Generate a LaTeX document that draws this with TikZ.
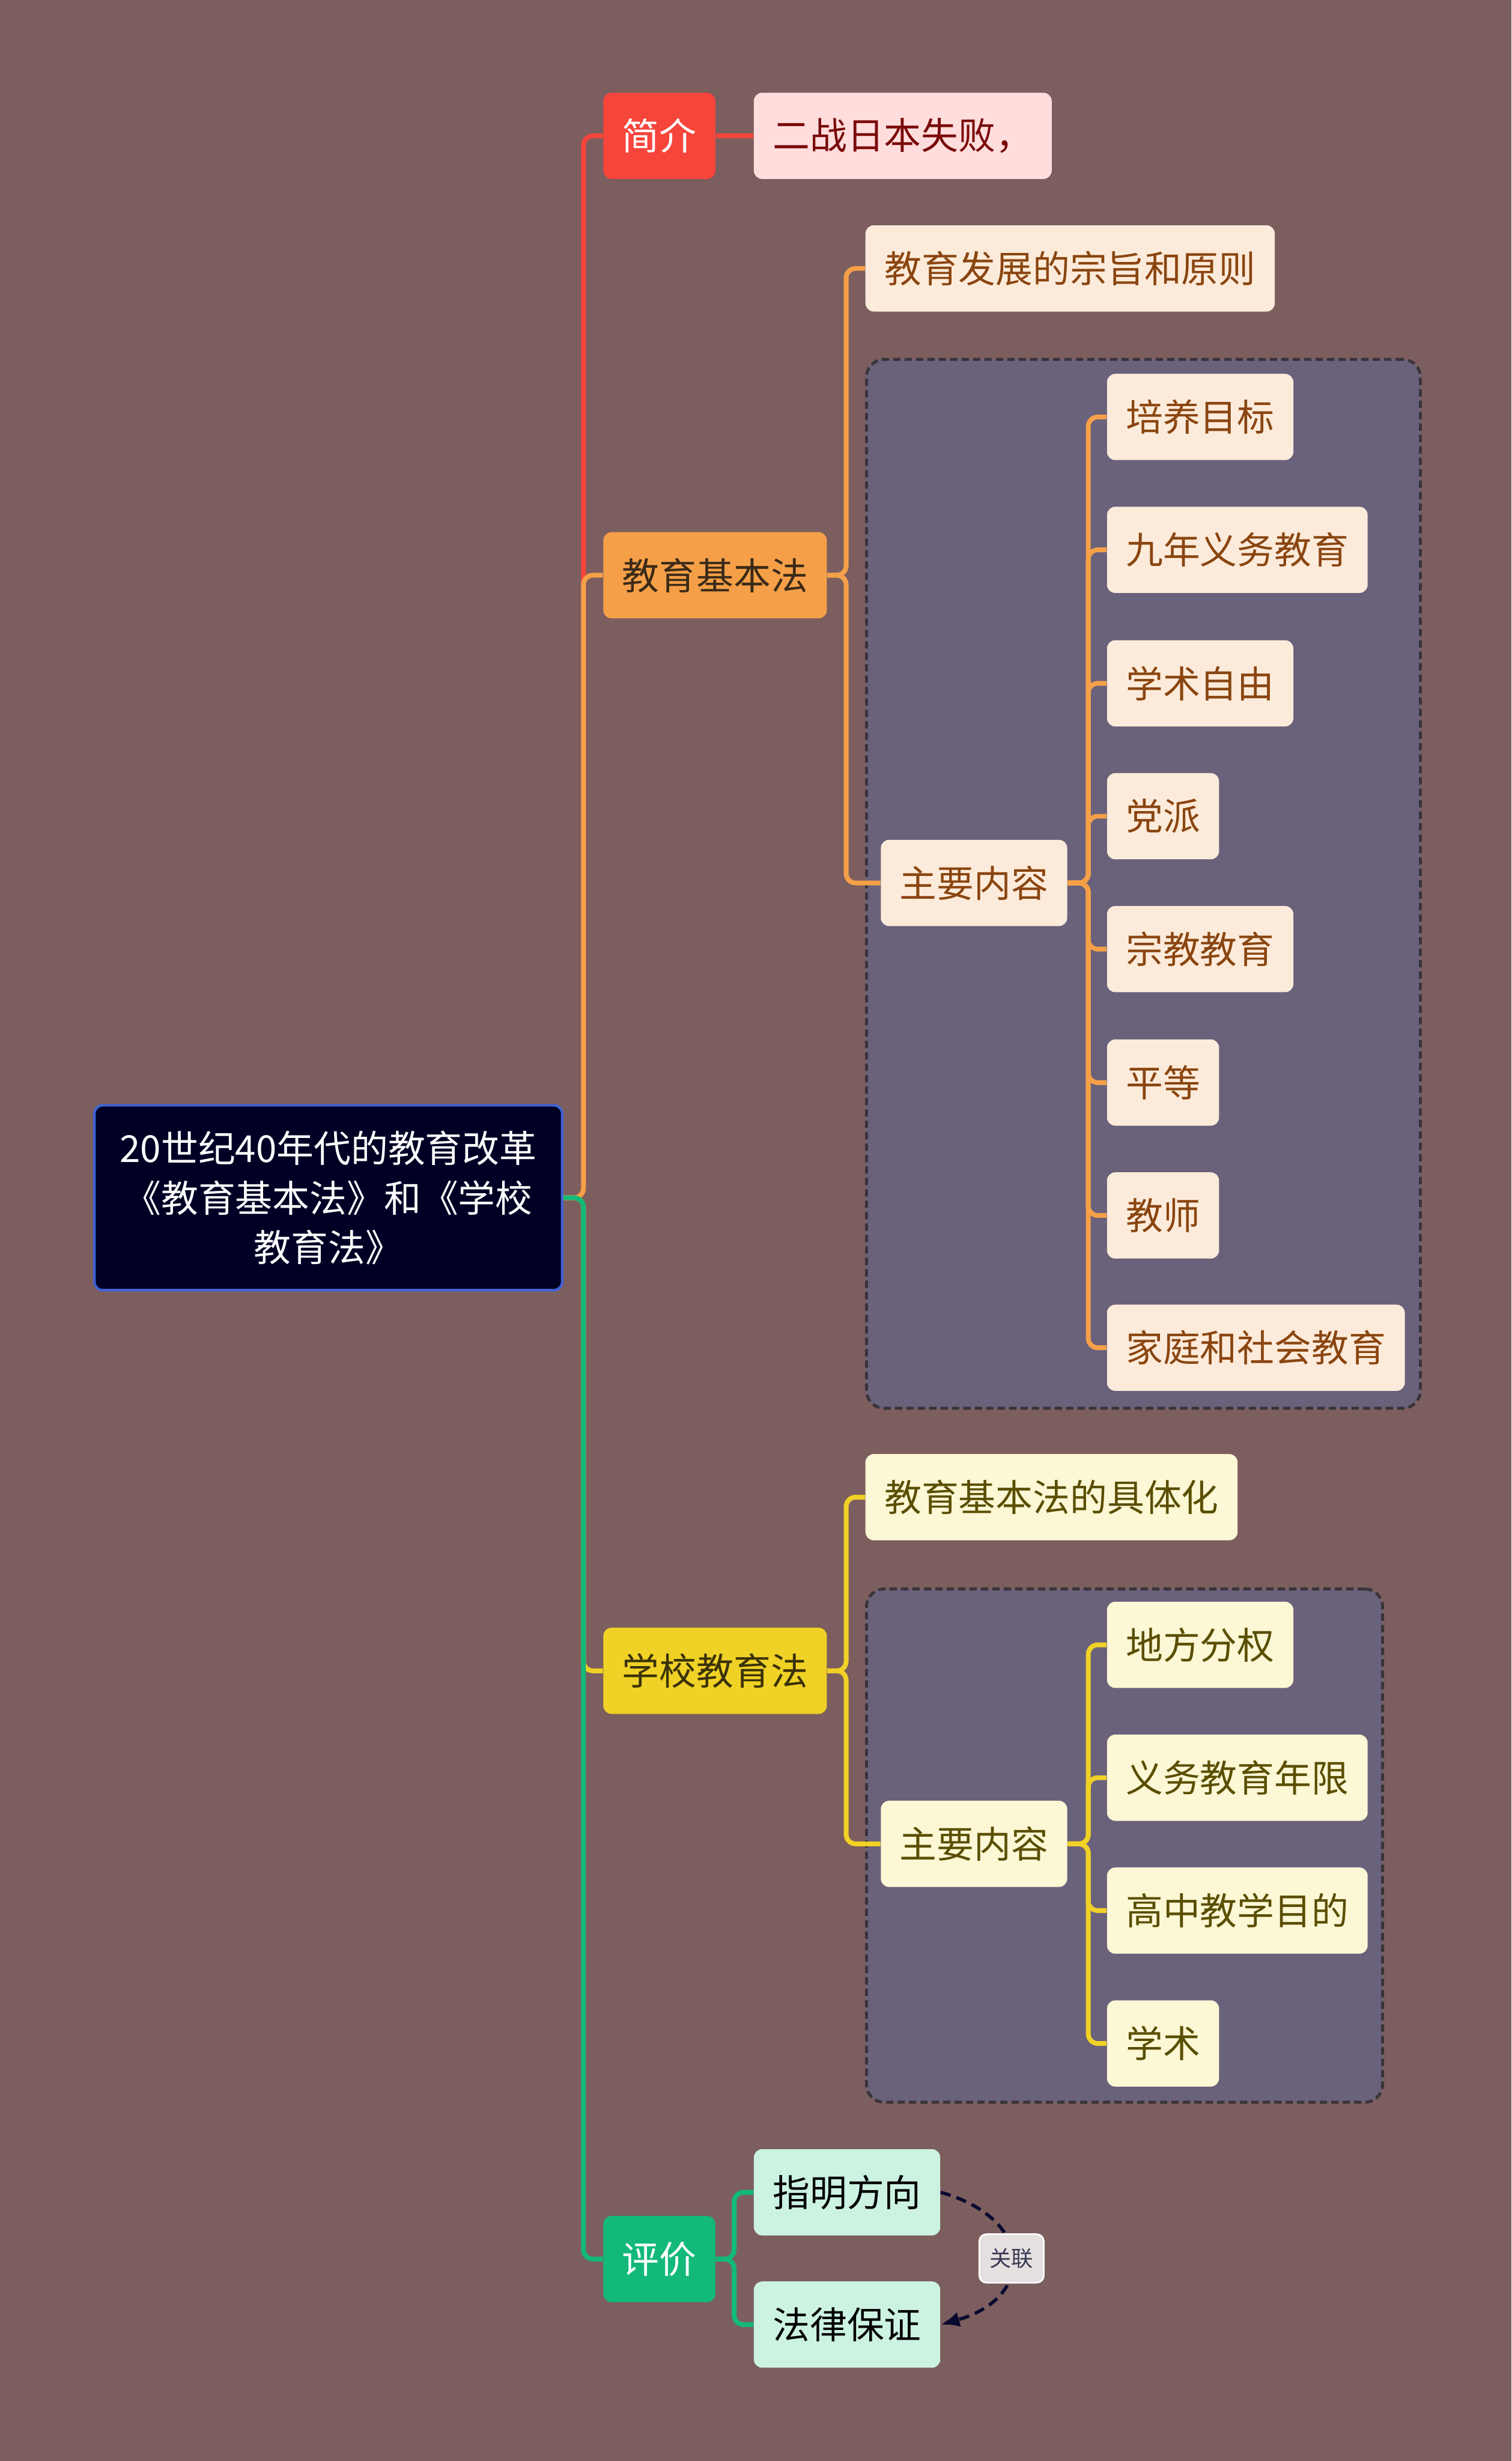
\documentclass[tikz,border=0pt]{standalone}
\usepackage{fontspec}
\setmainfont{Noto Sans CJK SC}
\usetikzlibrary{positioning,arrows.meta}

\definecolor{bgcol}{HTML}{7C5E5E}
\definecolor{rootfill}{HTML}{000025}
\definecolor{rootline}{HTML}{3F63D6}
\definecolor{redmain}{HTML}{F6453B}
\definecolor{redsoft}{HTML}{FFDDDC}
\definecolor{redtext}{HTML}{7A0A0A}
\definecolor{orgmain}{HTML}{F5A048}
\definecolor{orgsoft}{HTML}{FCEBDA}
\definecolor{orgtext}{HTML}{8A4510}
\definecolor{orgdark}{HTML}{3A2A18}
\definecolor{yelmain}{HTML}{F0D126}
\definecolor{yelsoft}{HTML}{FCF7D5}
\definecolor{yeltext}{HTML}{5A4E00}
\definecolor{yeldark}{HTML}{3A3208}
\definecolor{grnmain}{HTML}{13B979}
\definecolor{grnsoft}{HTML}{CCF2E2}
\definecolor{grpfill}{HTML}{6A617B}
\definecolor{grpline}{HTML}{38343A}
\definecolor{relline}{HTML}{0A0A30}
\definecolor{tagfill}{HTML}{E5DFDF}
\definecolor{tagtext}{HTML}{3A3A55}

\begin{document}
\begin{tikzpicture}[y=-1cm,
    box/.style={rounded corners=0.14cm, inner xsep=0.32cm, inner ysep=0pt, minimum height=1.46cm,
        font=\fontsize{17.9pt}{23.8pt}\selectfont, anchor=west},
    rootbox/.style={box, fill=rootfill, draw=rootline, line width=1.2pt, text=white, align=center,
        minimum width=7.92cm, minimum height=3.13cm, anchor=center},
    redtop/.style={box, fill=redmain, text=white},
    redsub/.style={box, fill=redsoft, text=redtext},
    orgtop/.style={box, fill=orgmain, text=orgdark},
    orgsub/.style={box, fill=orgsoft, text=orgtext},
    yeltop/.style={box, fill=yelmain, text=yeldark},
    yelsub/.style={box, fill=yelsoft, text=yeltext},
    grntop/.style={box, fill=grnmain, text=white},
    grnsub/.style={box, fill=grnsoft, text=black},
    grpbox/.style={draw=grpline, fill=grpfill, line width=1.4pt, dash pattern=on 3.5pt off 2pt,
        rounded corners=0.3cm, anchor=north west},
    link/.style={line width=2.3pt, rounded corners=0.16cm},
    rel/.style={draw=relline, line width=1.6pt, dash pattern=on 5pt off 3pt, -{Latex[length=0.32cm,width=0.26cm]}},
    tag/.style={fill=tagfill, draw=white, line width=0.8pt, rounded corners=0.12cm, text=tagtext,
        minimum width=1.09cm, minimum height=0.82cm, inner sep=0pt, font=\fontsize{10.5pt}{12pt}\selectfont}]

  \fill[bgcol] (0,0) rectangle (25.6,41.67);
  \useasboundingbox (0,0) rectangle (25.6,41.67);

  % dashed groups
  \node[grpbox, minimum width=9.38cm, minimum height=17.76cm] (g1) at (14.65,6.06) {};
  \node[grpbox, minimum width=8.74cm, minimum height=8.69cm] (g2) at (14.65,26.88) {};

  \node[rootbox] (r) at (5.56,20.28) {20世纪40年代的教育改革\\《教育基本法》和《学校\\教育法》};

  \node[redtop] (a1) at (10.21,2.30) {简介};
  \node[redsub] (a11) at (12.76,2.30) {二战日本失败，};

  \node[orgtop] (a2) at (10.21,9.74) {教育基本法};
  \node[orgsub] (a21) at (14.65,4.545) {教育发展的宗旨和原则};
  \node[orgsub] (a22) at (14.91,14.95) {主要内容};
  \node[orgsub] (c1) at (18.74,7.06) {培养目标};
  \node[orgsub] (c2) at (18.74,9.31) {九年义务教育};
  \node[orgsub] (c3) at (18.74,11.57) {学术自由};
  \node[orgsub] (c4) at (18.74,13.82) {党派};
  \node[orgsub] (c5) at (18.74,16.07) {宗教教育};
  \node[orgsub] (c6) at (18.74,18.33) {平等};
  \node[orgsub] (c7) at (18.74,20.58) {教师};
  \node[orgsub] (c8) at (18.74,22.82) {家庭和社会教育};

  \node[yeltop] (a3) at (10.21,28.29) {学校教育法};
  \node[yelsub] (a31) at (14.65,25.35) {教育基本法的具体化};
  \node[yelsub] (a32) at (14.91,31.22) {主要内容};
  \node[yelsub] (d1) at (18.74,27.85) {地方分权};
  \node[yelsub] (d2) at (18.74,30.10) {义务教育年限};
  \node[yelsub] (d3) at (18.74,32.35) {高中教学目的};
  \node[yelsub] (d4) at (18.74,34.60) {学术};

  \node[grntop] (a4) at (10.21,38.25) {评价};
  \node[grnsub] (a41) at (12.76,37.12) {指明方向};
  \node[grnsub] (a42) at (12.76,39.36) {法律保证};

  % branches from the root
  \draw[link, redmain] (r.east) -- ++(0.34,0) |- (a1.west);
  \draw[link, orgmain] (r.east) -- ++(0.34,0) |- (a2.west);
  \draw[link, yelmain] (r.east) -- ++(0.34,0) |- (a3.west);
  \draw[link, grnmain] (r.east) -- ++(0.34,0) |- (a4.west);

  \draw[link, redmain] (a1.east) -- (a11.west);

  \draw[link, orgmain] (a2.east) -- ++(0.32,0) |- (a21.west);
  \draw[link, orgmain] (a2.east) -- ++(0.32,0) |- (a22.west);
  \draw[link, orgmain] (a22.east) -- ++(0.35,0) |- (c1.west);
  \draw[link, orgmain] (a22.east) -- ++(0.35,0) |- (c2.west);
  \draw[link, orgmain] (a22.east) -- ++(0.35,0) |- (c3.west);
  \draw[link, orgmain] (a22.east) -- ++(0.35,0) |- (c4.west);
  \draw[link, orgmain] (a22.east) -- ++(0.35,0) |- (c5.west);
  \draw[link, orgmain] (a22.east) -- ++(0.35,0) |- (c6.west);
  \draw[link, orgmain] (a22.east) -- ++(0.35,0) |- (c7.west);
  \draw[link, orgmain] (a22.east) -- ++(0.35,0) |- (c8.west);

  \draw[link, yelmain] (a3.east) -- ++(0.32,0) |- (a31.west);
  \draw[link, yelmain] (a3.east) -- ++(0.32,0) |- (a32.west);
  \draw[link, yelmain] (a32.east) -- ++(0.35,0) |- (d1.west);
  \draw[link, yelmain] (a32.east) -- ++(0.35,0) |- (d2.west);
  \draw[link, yelmain] (a32.east) -- ++(0.35,0) |- (d3.west);
  \draw[link, yelmain] (a32.east) -- ++(0.35,0) |- (d4.west);

  \draw[link, grnmain] (a4.east) -- ++(0.31,0) |- (a41.west);
  \draw[link, grnmain] (a4.east) -- ++(0.31,0) |- (a42.west);

  % relation
  \draw[rel] (a41.east) .. controls +(1.6,0.45) and +(1.6,-0.45) .. node[tag, solid] (t1) {关联} (a42.east);
\end{tikzpicture}
\end{document}
